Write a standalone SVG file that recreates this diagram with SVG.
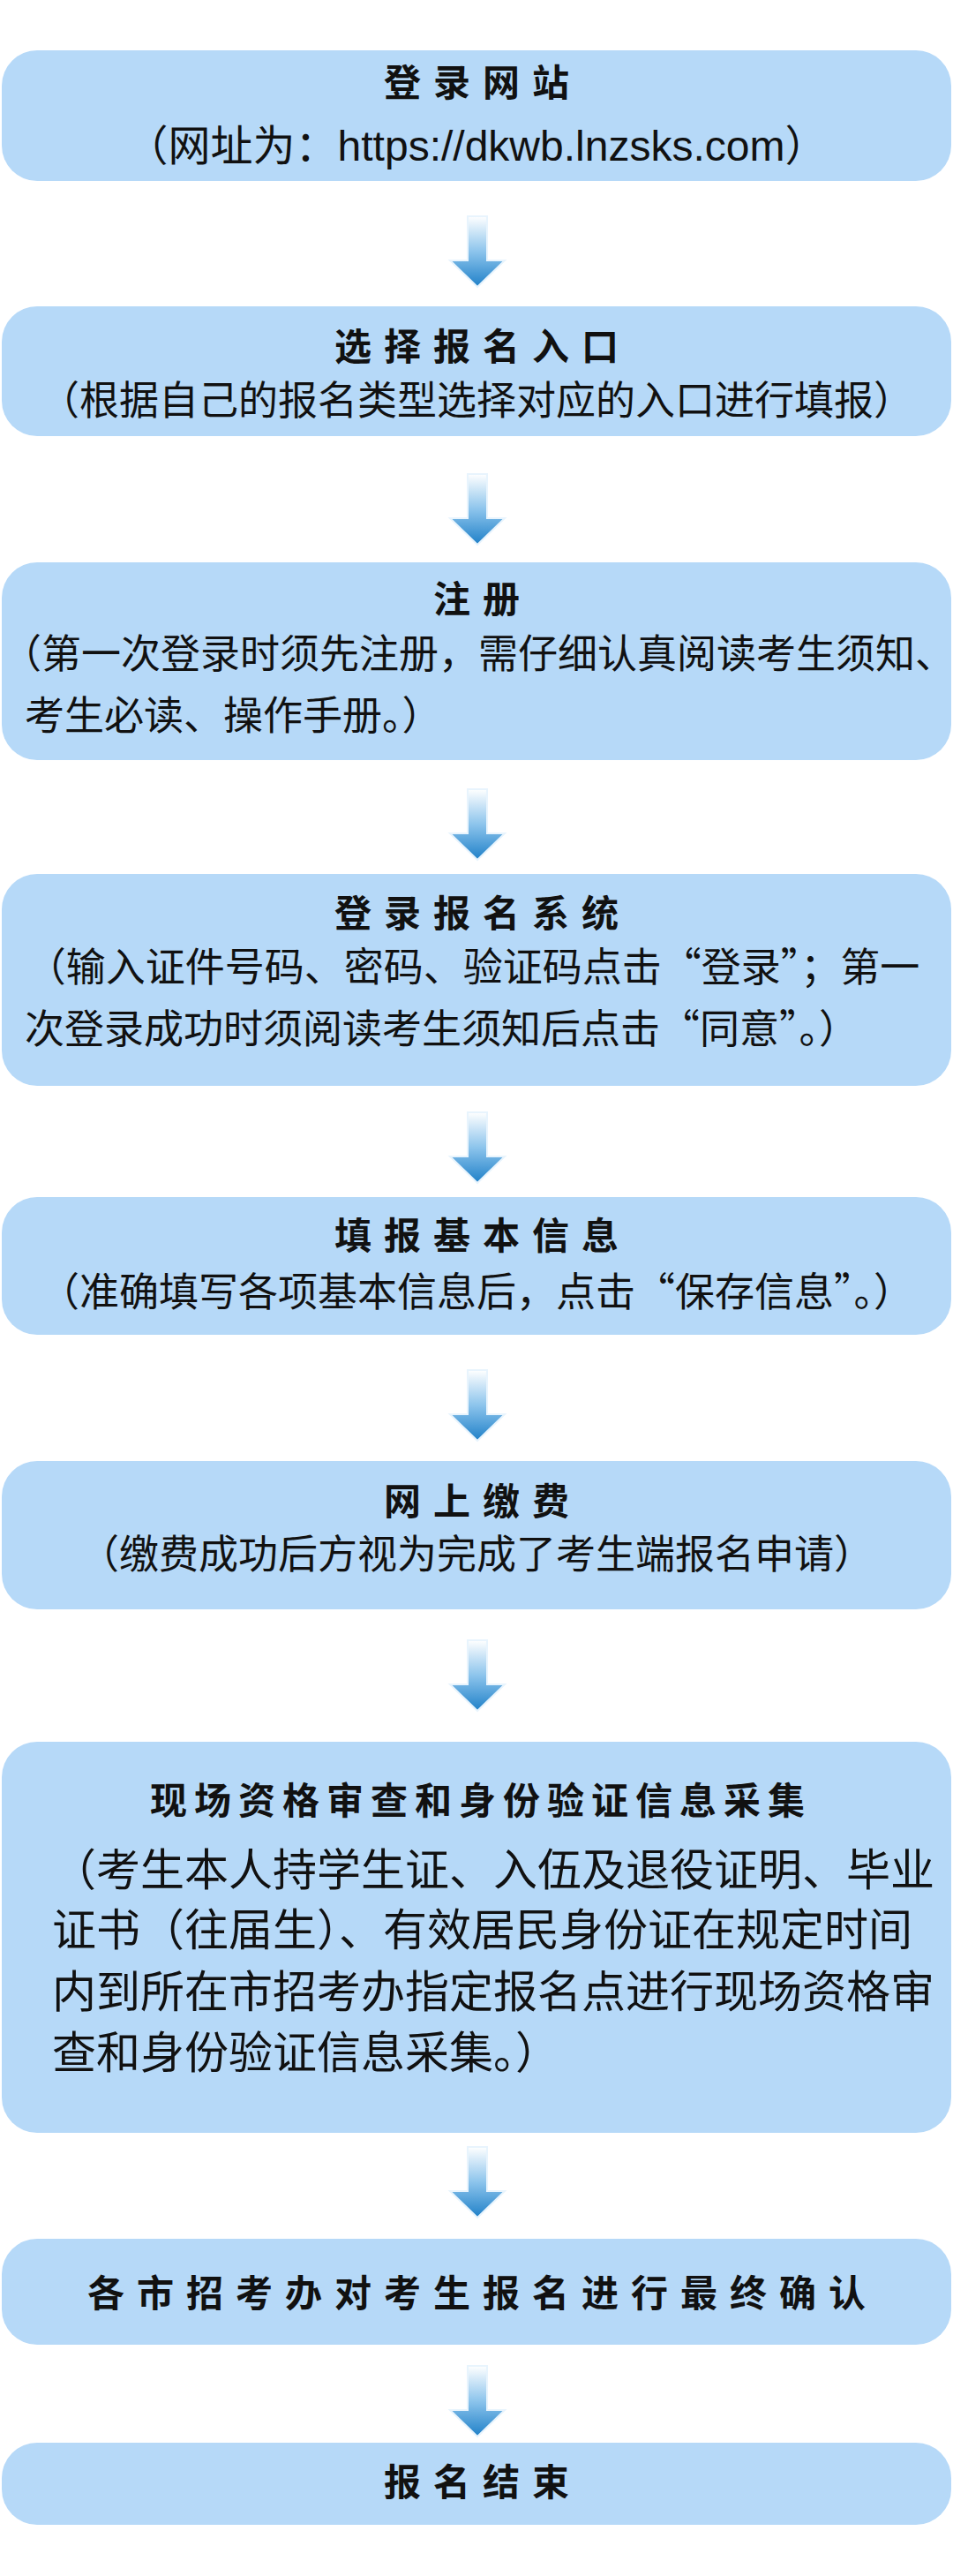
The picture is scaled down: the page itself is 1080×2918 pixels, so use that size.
<svg xmlns="http://www.w3.org/2000/svg" width="1080" height="2918" viewBox="0 0 1080 2918">
<style>
.box{fill:#b6d9f8}
.t{font-family:"Noto Sans CJK SC","Liberation Sans",sans-serif;font-weight:bold;font-size:42px;fill:#111;text-anchor:middle;letter-spacing:14px}
.b{font-family:"Noto Sans CJK SC","Liberation Sans",sans-serif;font-size:45px;fill:#111;text-anchor:middle}
.u{font-family:"Liberation Sans","Noto Sans CJK SC",sans-serif;font-size:48px;fill:#111;text-anchor:middle}
.bl{font-family:"Noto Sans CJK SC","Liberation Sans",sans-serif;font-size:50px;fill:#111}
.arr{fill:url(#g);stroke:#e8f4fd;stroke-width:2}
</style>
<defs>
<linearGradient id="g" x1="0" y1="0" x2="0" y2="1">
<stop offset="0" stop-color="#ffffff"/>
<stop offset="0.5" stop-color="#8cc4ec"/>
<stop offset="1" stop-color="#1f80c8"/>
</linearGradient>
<path id="a" d="M-11,0 H11 V50 H31 L0,80 L-31,50 H-11 Z"/>
</defs>
<rect width="1080" height="2918" fill="#fff"/>
<g id="connectors">
<use href="#a" class="arr" x="541" y="245"/>
<use href="#a" class="arr" x="541" y="537"/>
<use href="#a" class="arr" x="541" y="894"/>
<use href="#a" class="arr" x="541" y="1260"/>
<use href="#a" class="arr" x="541" y="1552"/>
<use href="#a" class="arr" x="541" y="1858"/>
<use href="#a" class="arr" x="541" y="2432"/>
<use href="#a" class="arr" x="541" y="2680"/>
</g>
<g id="n1"><rect class="box" x="2" y="57" width="1076" height="148" rx="40"/>
<text class="t" x="547" y="109">登录网站</text>
<text class="u" x="540" y="182">（网址为：https://dkwb.lnzsks.com）</text></g>
<g id="n2"><rect class="box" x="2" y="347" width="1076" height="147" rx="40"/>
<text class="t" x="547" y="408">选择报名入口</text>
<text class="b" x="540" y="470">（根据自己的报名类型选择对应的入口进行填报）</text></g>
<g id="n3"><rect class="box" x="2" y="637" width="1076" height="224" rx="40"/>
<text class="t" x="547" y="694">注册</text>
<text class="b" x="542" y="757">（第一次登录时须先注册，需仔细认真阅读考生须知、</text>
<text class="b" x="28" y="827" style="text-anchor:start">考生必读、操作手册。）</text></g>
<g id="n4"><rect class="box" x="2" y="990" width="1076" height="240" rx="40"/>
<text class="t" x="547" y="1050">登录报名系统</text>
<text class="b" x="536" y="1112">（输入证件号码、密码、验证码点击“登录”；第一</text>
<text class="b" x="28" y="1182" style="text-anchor:start">次登录成功时须阅读考生须知后点击“同意”。）</text></g>
<g id="n5"><rect class="box" x="2" y="1356" width="1076" height="156" rx="40"/>
<text class="t" x="547" y="1415">填报基本信息</text>
<text class="b" x="540" y="1480">（准确填写各项基本信息后，点击“保存信息”。）</text></g>
<g id="n6"><rect class="box" x="2" y="1655" width="1076" height="168" rx="40"/>
<text class="t" x="547" y="1716">网上缴费</text>
<text class="b" x="540" y="1777">（缴费成功后方视为完成了考生端报名申请）</text></g>
<g id="n7"><rect class="box" x="2" y="1973" width="1076" height="443" rx="40"/>
<text class="t" x="545" y="2055" style="letter-spacing:8px">现场资格审查和身份验证信息采集</text>
<text class="bl" x="59" y="2136">（考生本人持学生证、入伍及退役证明、毕业</text>
<text class="bl" x="59" y="2204">证书（往届生）、有效居民身份证在规定时间</text>
<text class="bl" x="59" y="2274">内到所在市招考办指定报名点进行现场资格审</text>
<text class="bl" x="59" y="2343">查和身份验证信息采集。）</text></g>
<g id="n8"><rect class="box" x="2" y="2536" width="1076" height="120" rx="40"/>
<text class="t" x="547" y="2613">各市招考办对考生报名进行最终确认</text></g>
<g id="n9"><rect class="box" x="2" y="2767" width="1076" height="93" rx="40"/>
<text class="t" x="547" y="2827">报名结束</text></g>
</svg>
